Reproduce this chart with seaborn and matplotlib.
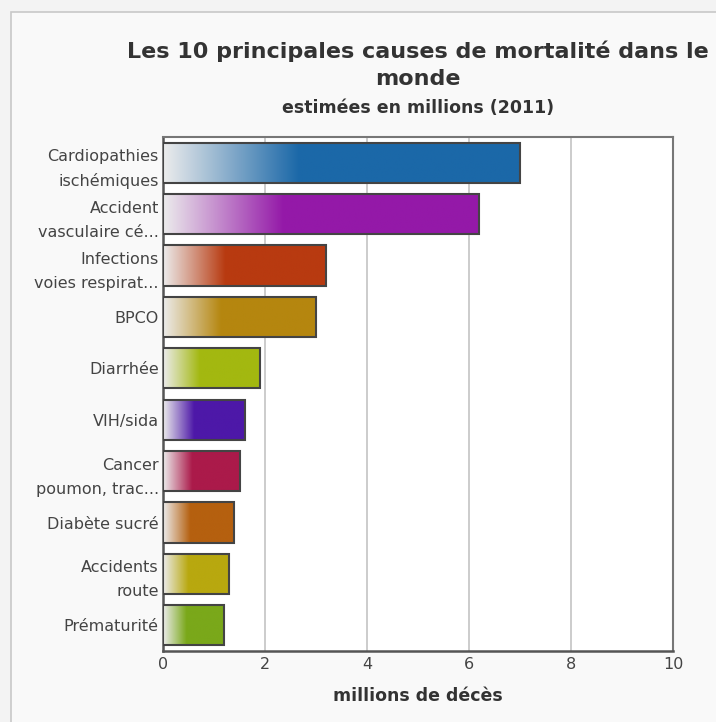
import numpy as np
import pandas as pd
import matplotlib
matplotlib.use("Agg")
import matplotlib.pyplot as plt
import matplotlib.colors as mcolors
from matplotlib.patches import Rectangle
import seaborn as sns

categories = [
    "Cardiopathies\nischémiques",
    "Accident\nvasculaire cé...",
    "Infections\nvoies respirat...",
    "BPCO",
    "Diarrhée",
    "VIH/sida",
    "Cancer\npoumon, trac...",
    "Diabète sucré",
    "Accidents\nroute",
    "Prématurité",
]
values = [7.0, 6.2, 3.2, 3.0, 1.9, 1.6, 1.5, 1.4, 1.3, 1.2]
x_ticks = [0, 2, 4, 6, 8, 10]

palette = ["#1b68a8", "#9419a8", "#b83a10", "#b5860f", "#a3b810",
           "#4d18a8", "#ab1a4a", "#b5600f", "#b8a80f", "#7aa81a"]

title = "Les 10 principales causes de mortalité dans le\nmonde"
subtitle = "estimées en millions (2011)"
xlabel = "millions de décès"

sns.set_style("white")
plt.rcParams['font.family'] = ['DejaVu Sans']

W, H = 716, 722
fig = plt.figure(figsize=(W / 100, H / 100), dpi=100, facecolor="#f3f3f3")

# card background
card = Rectangle((11 / W, -0.01), 1, 1.01 - 12 / H, transform=fig.transFigure,
                 facecolor="#f9f9f9", edgecolor="#c8c8c8", linewidth=1.2, zorder=-5)
fig.patches.append(card)

ax = fig.add_axes([163 / W, 1 - 651 / H, 510 / W, 514 / H])
ax.set_zorder(2)
ax.set_facecolor("white")

df = pd.DataFrame({"cause": categories, "value": values})
sns.barplot(data=df, x="value", y="cause", hue="cause", palette=palette,
            legend=False, width=0.78, edgecolor="#444444", linewidth=1.5,
            saturation=1, ax=ax, zorder=3)

# gradient fills
light = np.array(mcolors.to_rgb("#ececec"))
N = 256
for patch, col in zip(ax.patches, palette):
    x0, y0 = patch.get_x(), patch.get_y()
    w, h = patch.get_width(), patch.get_height()
    full = np.array(mcolors.to_rgb(col))
    t = np.clip(np.linspace(0, 1, N) / 0.38, 0, 1)[:, None]
    grad = light * (1 - t) + full * t
    img = ax.imshow(grad[None, :, :], aspect="auto",
                    extent=[x0, x0 + w, y0 + h, y0], zorder=2.9,
                    interpolation="bilinear")
    img.set_clip_path(patch)
    patch.set_facecolor("none")

ax.set_xlim(0, 10)
ax.set_ylim(9.5, -0.5)
ax.set_xticks(x_ticks)
ax.set_xticklabels([str(v) for v in x_ticks])
ax.xaxis.grid(True, color="#c4c4c4", linewidth=1.2, zorder=0)
ax.yaxis.grid(False)
ax.set_axisbelow(True)

for s in ax.spines.values():
    s.set_visible(True)
    s.set_color("#555555")
    s.set_linewidth(1.8)
ax.spines["top"].set_color("#777777")
ax.spines["right"].set_color("#777777")
ax.spines["top"].set_linewidth(1.5)
ax.spines["right"].set_linewidth(1.5)

ax.tick_params(axis="y", length=0, labelsize=11.5, colors="#444444", pad=3)
ax.tick_params(axis="x", length=0, labelsize=11.5, colors="#444444", pad=4)
for lbl in ax.get_yticklabels():
    lbl.set_linespacing(1.75)
    lbl.set_color("#444444")

ax.set_ylabel("")
ax.set_xlabel(xlabel, fontsize=12.5, fontweight="bold", color="#333333", labelpad=11)

cx = (163 + 673) / 2 / W
fig.text(cx, 1 - 65 / H, title, ha="center", va="center", fontsize=16,
         fontweight="bold", color="#333333", linespacing=1.45)
fig.text(cx, 1 - 108 / H, subtitle, ha="center", va="center", fontsize=12.5,
         fontweight="bold", color="#333333")

fig.savefig("out.png", dpi=100, facecolor=fig.get_facecolor())
